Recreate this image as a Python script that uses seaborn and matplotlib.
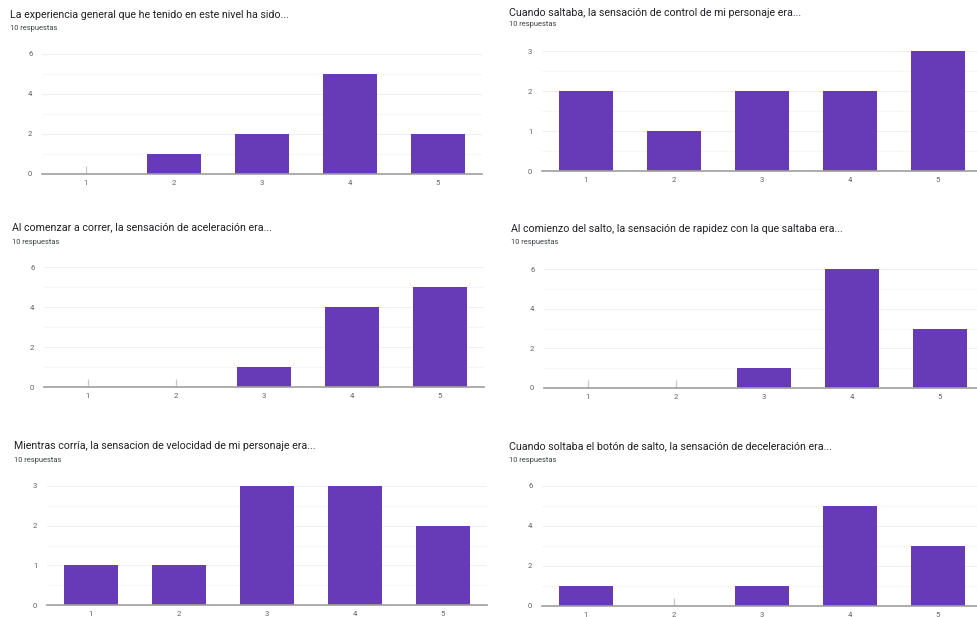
import matplotlib
matplotlib.use("Agg")
import matplotlib.pyplot as plt
import seaborn as sns
import pandas as pd
from matplotlib.ticker import MultipleLocator

sns.set_theme(style="white")
plt.rcParams['font.family'] = ['Roboto', 'DejaVu Sans']

categories = ["1", "2", "3", "4", "5"]

titles = [
    "La experiencia general que he tenido en este nivel ha sido...",
    "Cuando saltaba, la sensación de control de mi personaje era...",
    "Al comenzar a correr, la sensación de aceleración era...",
    "Al comienzo del salto, la sensación de rapidez con la que saltaba era...",
    "Mientras corría, la sensacion de velocidad de mi personaje era...",
    "Cuando soltaba el botón de salto, la sensación de deceleración era...",
]
subtitle = "10 respuestas"

q1_values = [0, 1, 2, 5, 2]
q2_values = [2, 1, 2, 2, 3]
q3_values = [0, 0, 1, 4, 5]
q4_values = [0, 0, 1, 6, 3]
q5_values = [1, 1, 3, 3, 2]
q6_values = [1, 0, 1, 5, 3]
all_values = [q1_values, q2_values, q3_values, q4_values, q5_values, q6_values]

y_max = [6, 3, 6, 6, 3, 6]
y_major = [2, 1, 2, 2, 1, 2]

W, H = 978, 617
# layout in pixels: (left, right, top, baseline)
axes_px = [
    (42, 482, 54, 174),
    (542, 982, 51, 171),
    (44, 484, 267, 387),
    (544, 984, 269, 388),
    (47, 487, 486, 605),
    (542, 982, 486, 606),
]
title_px = [
    (10, 15, 28),
    (509, 12.5, 25),
    (12, 227.5, 242),
    (511, 229, 243),
    (14, 446, 460),
    (509, 446, 460),
]

PURPLE = "#673ab7"
fig = plt.figure(figsize=(W / 100, H / 100), dpi=100)
fig.patch.set_facecolor("white")

for i in range(6):
    l, r, t, b = axes_px[i]
    ax = fig.add_axes([l / W, 1 - b / H, (r - l) / W, (b - t) / H])
    df = pd.DataFrame({"cat": categories, "count": all_values[i]})
    sns.barplot(data=df, x="cat", y="count", order=categories, color=PURPLE,
                saturation=1, width=0.61, ax=ax, linewidth=0)
    ax.set_xlim(-0.5, 4.5)
    ax.set_ylim(0, y_max[i])
    ax.yaxis.set_major_locator(MultipleLocator(y_major[i]))
    ax.yaxis.set_minor_locator(MultipleLocator(y_major[i] / 2))
    ax.grid(True, which="major", axis="y", color="#efefef", linewidth=0.8)
    ax.grid(True, which="minor", axis="y", color="#f6f6f6", linewidth=0.8)
    ax.set_axisbelow(True)
    for s in ["top", "right", "left"]:
        ax.spines[s].set_visible(False)
    ax.spines["bottom"].set_color("#9e9e9e")
    ax.spines["bottom"].set_linewidth(1.2)
    ax.spines["bottom"].set_zorder(5)
    ax.set_xlabel("")
    ax.set_ylabel("")
    ax.tick_params(axis="both", which="both", length=0, labelsize=5.5,
                   labelcolor="#616161")
    ax.tick_params(axis="y", pad=7)
    ax.tick_params(axis="x", pad=4)
    # zero-value indicators
    zero_idx = [j for j, v in enumerate(all_values[i]) if v == 0]
    if zero_idx:
        ax.vlines(zero_idx, 0, 0.07, transform=ax.get_xaxis_transform(),
                  color="#c8c8c8", linewidth=0.9, zorder=4)
    tx, ty, sy = title_px[i]
    fig.text(tx / W, 1 - ty / H, titles[i], fontsize=7.7, color="#202124",
             ha="left", va="center")
    fig.text(tx / W, 1 - sy / H, subtitle, fontsize=5.4, color="#3c4043",
             ha="left", va="center")

fig.savefig("out.png", dpi=100, facecolor="white")
